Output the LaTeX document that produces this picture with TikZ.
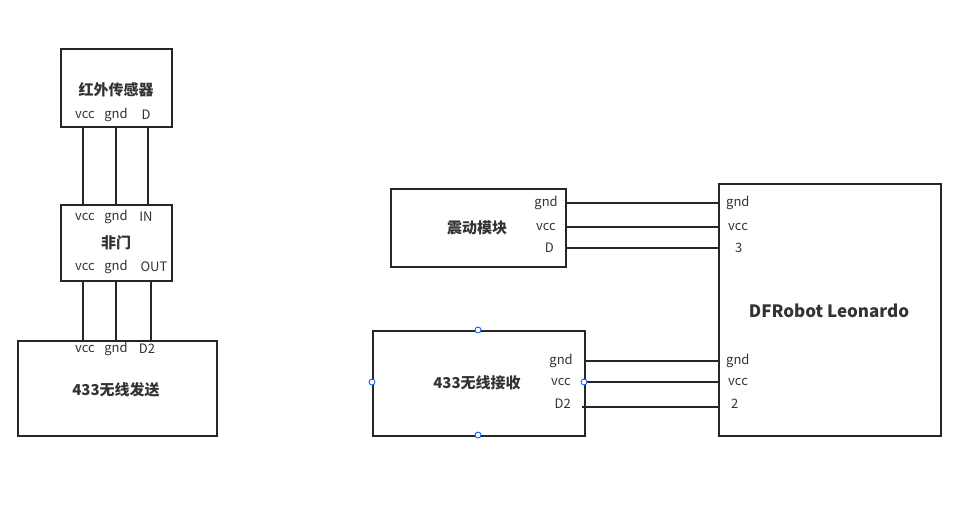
\documentclass[tikz,border=0pt]{standalone}
\usepackage{fontspec}
\setmainfont{Noto Sans CJK SC}
\begin{document}
\begin{tikzpicture}[x=1pt,y=-1pt]

% definitions
\tikzstyle{block} = [rectangle, draw=black!85, line width=1.5pt, anchor=north west, inner sep=0pt]
\tikzstyle{title} = [font=\fontsize{15}{17}\selectfont\bfseries, text=black!80]
\tikzstyle{pin} = [font=\fontsize{13}{15}\selectfont, text=black!80, inner sep=0pt]
\tikzstyle{wire} = [draw=black!85, line width=1.5pt]
\tikzstyle{handle} = [circle, draw=blue!70!cyan, fill=white, line width=0.8pt, minimum size=6pt, inner sep=0pt]

\useasboundingbox (0,0) rectangle (960,515);

% left column
\node (ir) [block, minimum width=111pt, minimum height=78pt] at (60,48) {};
\node (irt) [title] at (116,90) {红外传感器};
\node (irv) [pin] at (85,115) {vcc};
\node (irg) [pin] at (116,115) {gnd};
\node (ird) [pin] at (146,115) {D};

\node (nt) [block, minimum width=111pt, minimum height=76pt] at (60,204) {};
\node (ntt) [title] at (116,243) {非门};
\node (niv) [pin] at (85,217) {vcc};
\node (nig) [pin] at (116,217) {gnd};
\node (nid) [pin] at (146,217) {IN};
\node (nov) [pin] at (85,267) {vcc};
\node (nog) [pin] at (116,267) {gnd};
\node (nod) [pin] at (154,267) {OUT};

\node (tx) [block, minimum width=199pt, minimum height=95pt] at (17,340) {};
\node (txt) [title] at (116,390) {433无线发送};
\node (txv) [pin] at (85,349) {vcc};
\node (txg) [pin] at (116,349) {gnd};
\node (txd) [pin] at (147,349) {D2};

\coordinate (a1) at (83,126); \coordinate (a2) at (116,126); \coordinate (a3) at (148,126);
\coordinate (b1) at (83,204); \coordinate (b2) at (116,204); \coordinate (b3) at (148,204);
\coordinate (c1) at (83,280); \coordinate (c2) at (116,280); \coordinate (c3) at (151,280);
\coordinate (d1) at (83,340); \coordinate (d2) at (116,340); \coordinate (d3) at (151,340);
\foreach \i in {1,2,3} {
  \draw [wire] (a\i) -- (b\i);
  \draw [wire] (c\i) -- (d\i);
}

% right side
\node (vib) [block, minimum width=175pt, minimum height=78pt] at (390,188) {};
\node (vibt) [title] at (477,228) {震动模块};
\node (vg) [pin, anchor=east] at (558,203) {gnd};
\node (vv) [pin, anchor=east] at (556,227) {vcc};
\node (vd) [pin, anchor=east] at (554,248) {D};

\node (rx) [block, minimum width=212pt, minimum height=105pt] at (372,330) {};
\node (rxt) [title] at (477,383) {433无线接收};
\node (rg) [pin, anchor=east] at (573,361) {gnd};
\node (rv) [pin, anchor=east] at (571,382) {vcc};
\node (rd) [pin, anchor=east] at (571,404) {D2};

\node (dfr) [block, minimum width=222pt, minimum height=252pt] at (718,183) {};
\node (dfrt) [title, font=\fontsize{17}{19}\selectfont\bfseries] at (829,311) {DFRobot Leonardo};
\node (dg1) [pin, anchor=west] at (726,203) {gnd};
\node (dv1) [pin, anchor=west] at (728,227) {vcc};
\node (d3) [pin, anchor=west] at (735,248) {3};
\node (dg2) [pin, anchor=west] at (726,361) {gnd};
\node (dv2) [pin, anchor=west] at (728,382) {vcc};
\node (dd2) [pin, anchor=west] at (731,404) {2};

\foreach \y in {203,227,248} \draw [wire] (565,\y) -- (718,\y);
\draw [wire] (584,361) -- (718,361);
\draw [wire] (584,382) -- (718,382);
\draw [wire] (582,407) -- (718,407);

% selection handles
\node [handle] at (478,330) {};
\node [handle] at (372,382) {};
\node [handle] at (584,382) {};
\node [handle] at (478,435) {};

\end{tikzpicture}
\end{document}
